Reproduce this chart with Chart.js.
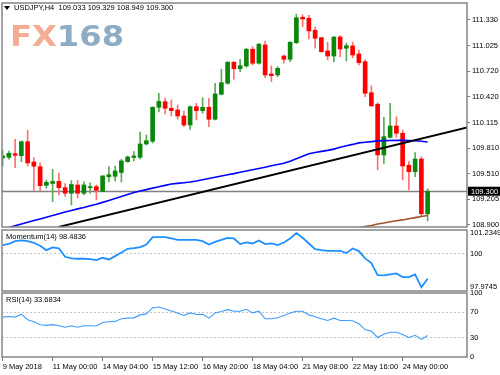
<!DOCTYPE html>
<html>
<head>
<meta charset="utf-8">
<script src="https://cdn.jsdelivr.net/npm/chart.js@4.4.1/dist/chart.umd.min.js"></script>
<style>
  html, body { margin: 0; padding: 0; background: #fff; }
  #wrap { position: relative; width: 500px; height: 375px; overflow: hidden; font-family: 'Liberation Sans', Arial, sans-serif; }
  #wrap canvas { position: absolute; left: 0; top: 0; }
  .lbl { position: absolute; font-size: 7.5px; line-height: 1; color: #000; white-space: pre; }
  #tri { position: absolute; left: 4px; top: 6px; width: 0; height: 0; border-left: 3px solid transparent; border-right: 3px solid transparent; border-top: 4px solid #000; }
  #logo { position: absolute; left: 10px; top: 23px; font: bold 28px 'DejaVu Sans', sans-serif; line-height: 28px; transform: scaleX(1.15); transform-origin: left top; white-space: pre; }
</style>
</head>
<body>
<div id="wrap">
  <canvas id="main" width="500" height="375"></canvas>
  <canvas id="mom" width="500" height="375"></canvas>
  <canvas id="rsi" width="500" height="375"></canvas>
  <div id="logo"><span style="color:#f3ad95">FX</span><span style="color:#8eacc4">168</span></div>
  <div id="tri"></div>
  <div class="lbl" style="left:14px;top:4px">USDJPY,H4  109.033 109.329 108.949 109.300</div>
  <div class="lbl" style="left:6px;top:233px">Momentum(14) 98.4836</div>
  <div class="lbl" style="left:6px;top:296px">RSI(14) 33.6834</div>
</div>
<script>
// USDJPY H4, 69 bougies + MA, ligne de tendance, Momentum(14), RSI(14)
const tickBars = [0, 8, 16, 24, 32, 40, 48, 56, 64];
const tickLabels = ['9 May 2018', '11 May 00:00', '14 May 04:00', '15 May 12:00', '16 May 20:00',
  '18 May 04:00', '21 May 08:00', '22 May 16:00', '24 May 00:00'];

const opens = [
  109.694, 109.702, 109.745, 109.721, 109.887, 109.647, 109.591, 109.370, 109.392, 109.416,
  109.342, 109.276, 109.374, 109.276, 109.342, 109.354, 109.299, 109.472, 109.477, 109.522,
  109.650, 109.700, 109.702, 109.860, 109.892, 110.295, 110.361, 110.283, 110.263, 110.192,
  110.085, 110.302, 110.255, 110.295, 110.153, 110.449, 110.580, 110.829, 110.753, 110.785,
  110.983, 110.817, 111.034, 110.690, 110.678, 110.903, 110.864, 111.061, 111.362, 111.350,
  111.208, 111.120, 110.962, 110.903, 111.128, 110.995, 111.022, 110.927, 110.836, 110.468,
  110.331, 109.730, 109.939, 110.073, 109.987, 109.608, 109.532, 109.682, 109.033];
const highs = [
  109.789, 109.777, 109.916, 109.896, 110.020, 109.698, 109.638, 109.433, 109.560, 109.516,
  109.392, 109.427, 109.427, 109.410, 109.401, 109.374, 109.484, 109.591, 109.599, 109.679,
  109.718, 109.769, 110.002, 109.967, 110.302, 110.461, 110.405, 110.382, 110.322, 110.251,
  110.311, 110.342, 110.409, 110.402, 110.580, 110.746, 110.836, 110.836, 110.864, 110.995,
  111.013, 111.054, 111.081, 110.785, 110.776, 110.915, 111.073, 111.398, 111.392, 111.385,
  111.247, 111.125, 111.066, 111.132, 111.144, 111.057, 111.069, 110.974, 110.856, 110.548,
  110.350, 110.177, 110.342, 110.184, 110.026, 109.650, 109.757, 109.710, 109.329];
const lows = [
  109.599, 109.679, 109.579, 109.650, 109.599, 109.309, 109.306, 109.335, 109.176, 109.256,
  109.238, 109.137, 109.220, 109.256, 109.276, 109.196, 109.295, 109.410, 109.421, 109.410,
  109.643, 109.659, 109.682, 109.848, 109.872, 110.239, 110.216, 110.192, 110.153, 110.065,
  110.034, 110.145, 110.224, 110.065, 110.145, 110.441, 110.568, 110.627, 110.717, 110.769,
  110.797, 110.805, 110.646, 110.599, 110.658, 110.817, 110.836, 111.049, 111.251, 111.105,
  110.995, 110.947, 110.856, 110.836, 110.895, 110.844, 110.880, 110.797, 110.421, 110.305,
  109.552, 109.631, 109.928, 109.939, 109.433, 109.315, 109.472, 108.998, 108.949];
const closes = [
  109.718, 109.750, 109.726, 109.887, 109.635, 109.596, 109.366, 109.406, 109.416, 109.342,
  109.276, 109.380, 109.276, 109.374, 109.354, 109.311, 109.481, 109.496, 109.540, 109.659,
  109.706, 109.718, 109.860, 109.899, 110.295, 110.364, 110.283, 110.255, 110.192, 110.085,
  110.302, 110.255, 110.295, 110.153, 110.453, 110.587, 110.829, 110.753, 110.788, 110.983,
  110.817, 111.042, 110.678, 110.670, 110.757, 110.864, 111.066, 111.357, 111.342, 111.200,
  111.113, 110.954, 110.903, 111.128, 110.986, 111.025, 110.915, 110.824, 110.461, 110.311,
  109.730, 109.947, 110.073, 109.987, 109.599, 109.532, 109.682, 109.033, 109.300];

// moyenne mobile bleue
const ma = [
  108.850, 108.871, 108.891, 108.912, 108.932, 108.952, 108.972, 108.992, 109.012, 109.033,
  109.053, 109.072, 109.091, 109.107, 109.127, 109.146, 109.168, 109.191, 109.214, 109.238,
  109.261, 109.284, 109.302, 109.319, 109.337, 109.354, 109.369, 109.385, 109.393, 109.401,
  109.410, 109.421, 109.436, 109.450, 109.465, 109.481, 109.495, 109.509, 109.525, 109.539,
  109.554, 109.570, 109.585, 109.601, 109.616, 109.631, 109.655, 109.685, 109.714, 109.744,
  109.759, 109.772, 109.784, 109.799, 109.821, 109.839, 109.855, 109.873, 109.881, 109.888,
  109.897, 109.900, 109.902, 109.903, 109.903, 109.902, 109.899, 109.892, 109.884];
// moyenne mobile marron (visible seulement en fin de fenêtre)
const ma2From = 56;
const ma2 = [108.858, 108.870, 108.882, 108.894, 108.912, 108.924, 108.939, 108.950,
  108.960, 108.973, 108.987, 109.001, 109.012];
// ligne de tendance
const trendBars = [9, 75];
const trendPrices = [108.877, 110.067];

const mom = [
  100.51, 100.59, 100.75, 100.79, 100.75, 100.65, 100.47, 100.21, 100.37, 100.31,
  99.81, 99.71, 99.69, 99.69, 99.67, 99.61, 99.75, 99.65, 99.85, 100.07,
  100.29, 100.33, 100.39, 100.55, 100.99, 100.99, 100.99, 100.91, 100.83, 100.83,
  100.83, 100.83, 100.75, 100.55, 100.71, 100.83, 100.95, 100.91, 100.57, 100.67,
  100.61, 100.79, 100.57, 100.61, 100.51, 100.67, 100.91, 101.2349, 100.95, 100.61,
  100.27, 100.21, 100.17, 100.17, 100.17, 100.03, 100.31, 100.15, 99.71, 99.43,
  98.71, 98.69, 98.75, 98.81, 98.59, 98.59, 98.75, 97.9745, 98.4836];
const rsi = [
  62.3, 63.3, 62.3, 66.9, 58.2, 55.1, 50.5, 49.4, 50.5, 48.9,
  46.4, 48.9, 46.4, 48.9, 48.9, 48.4, 54.0, 55.1, 55.6, 59.7,
  60.7, 61.2, 65.8, 67.4, 77.1, 78.2, 75.1, 72.0, 68.9, 64.8,
  68.9, 66.4, 66.9, 60.7, 68.9, 71.0, 74.0, 71.5, 71.5, 74.6,
  68.9, 71.5, 59.7, 59.7, 61.2, 64.8, 68.9, 71.5, 71.5, 65.8,
  62.8, 59.7, 57.1, 60.7, 57.1, 57.1, 56.6, 52.0, 42.8, 40.2,
  30.5, 35.6, 38.7, 38.7, 35.1, 30.5, 34.0, 27.4, 33.6834];

const priceTicks = [108.900, 109.205, 109.510, 109.810, 110.115, 110.420, 110.720, 111.025, 111.330];
const momTicks = [97.9745, 100, 101.2349];
const rsiTicks = [0, 30, 70, 100];

const COL = { up: '#0b870b', upWick: '#5aab5a', dn: '#ff0000', dnWick: '#ff7070',
  frame: '#858585', tick: '#7a7a7a', dash: '#c4c4c4', ma: '#0000ff', ma2: '#a0522d', osc: '#1e90ff' };

Chart.defaults.font.family = "'Liberation Sans', Arial, sans-serif";
Chart.defaults.font.size = 7.5;
Chart.defaults.color = '#000';

const frame = {
  id: 'frame',
  afterDraw(chart) {
    const { ctx, chartArea: a } = chart;
    ctx.save();
    ctx.strokeStyle = COL.frame; ctx.lineWidth = 1.5;
    ctx.strokeRect(a.left, a.top, a.right - a.left, a.bottom - a.top);
    ctx.restore();
  },
};
// ligne du dernier cours + étiquette noire
const bidLine = {
  id: 'bidLine',
  beforeDatasetsDraw(chart) {
    const { ctx, chartArea: a } = chart; const y = Math.round(chart.scales.y.getPixelForValue(closes[closes.length - 1])) + 0.5;
    ctx.save(); ctx.strokeStyle = '#808080'; ctx.lineWidth = 1.3;
    ctx.beginPath(); ctx.moveTo(a.left, y); ctx.lineTo(a.right, y); ctx.stroke(); ctx.restore();
  },
  afterDraw(chart) {
    const { ctx, chartArea: a } = chart; const v = closes[closes.length - 1]; const y = chart.scales.y.getPixelForValue(v);
    ctx.save(); ctx.fillStyle = '#000'; ctx.fillRect(a.right + 1, y - 4.5, 33, 9);
    ctx.fillStyle = '#fff'; ctx.font = "7.5px 'Liberation Sans', Arial, sans-serif"; ctx.textBaseline = 'middle';
    ctx.fillText(v.toFixed(3), a.right + 4, y + 0.5); ctx.restore();
  },
};

function xAxis(show) {
  return {
    type: 'linear', min: -0.1, max: 74.3, offset: false, display: show,
    grid: { drawOnChartArea: false, drawTicks: true, tickLength: 4, tickColor: COL.tick, offset: false },
    border: { display: false },
    afterBuildTicks: (s) => { s.ticks = tickBars.map((v) => ({ value: v })); },
    afterFit: (s) => { s.paddingLeft = 0; s.paddingRight = 0; s.height = show ? 16 : 0; },
    ticks: { align: 'start', padding: 1, maxRotation: 0, autoSkip: false, callback: (v) => tickLabels[tickBars.indexOf(v)] ?? '' },
  };
}
function yAxis(min, max, vals, fmt, grid, pad) {
  return {
    position: 'right', min, max, grid,
    border: { display: false, dash: [2, 2] },
    afterBuildTicks: (s) => { s.ticks = vals.map((v) => ({ value: v })); },
    afterFit: (s) => { s.width = 33; s.paddingTop = 0; s.paddingBottom = 0; },
    ticks: { padding: pad, autoSkip: false, callback: fmt },
  };
}
const levelGrid = (levels) => ({
  drawOnChartArea: true, drawTicks: false,
  color: (c) => (c.tick && levels.includes(c.tick.value) ? COL.dash : 'rgba(0,0,0,0)'),
});
const base = (padding) => ({
  responsive: false, animation: false, devicePixelRatio: 1, events: [],
  layout: { padding },
  plugins: { legend: { display: false }, tooltip: { enabled: false } },
});

const idx = opens.map((_, i) => i);
const isUp = (i) => closes[i] >= opens[i];

new Chart(document.getElementById('main'), {
  type: 'line',
  data: {
    datasets: [
      { type: 'line', data: trendBars.map((b, k) => ({ x: b, y: trendPrices[k] })), borderColor: '#000', borderWidth: 2, pointRadius: 0, order: 0 },
      { type: 'line', data: idx.map((i) => ({ x: i, y: ma[i] })), borderColor: COL.ma, borderWidth: 1.6, pointRadius: 0, order: 0 },
      { type: 'line', data: ma2.map((v, k) => ({ x: ma2From + k, y: v })), borderColor: COL.ma2, borderWidth: 1.6, pointRadius: 0, order: 0 },
      { type: 'bar', data: idx.map((i) => ({ x: i, y: [opens[i], closes[i]] })), backgroundColor: idx.map((i) => (isUp(i) ? COL.up : COL.dn)),
        barThickness: 4, minBarLength: 1, grouped: false, borderWidth: 0, order: 1 },
      { type: 'bar', data: idx.map((i) => ({ x: i, y: [lows[i], highs[i]] })), backgroundColor: idx.map((i) => (isUp(i) ? COL.upWick : COL.dnWick)),
        barThickness: 1, grouped: false, borderWidth: 0, order: 2 },
    ],
  },
  options: {
    ...base({ left: 2, right: 0, top: 3, bottom: 148 }),
    scales: {
      x: xAxis(false),
      y: yAxis(108.876, 111.531, priceTicks, (v) => v.toFixed(3),
        { drawOnChartArea: false, drawTicks: true, tickLength: 3, tickColor: COL.tick }, 2),
    },
  },
  plugins: [bidLine, frame],
});

new Chart(document.getElementById('mom'), {
  type: 'line',
  data: { datasets: [{ data: idx.map((i) => ({ x: i, y: mom[i] })), borderColor: COL.osc, borderWidth: 1.8, pointRadius: 0 }] },
  options: {
    ...base({ left: 2, right: 0, top: 230, bottom: 84 }),
    scales: { x: xAxis(false), y: yAxis(97.75, 101.42, momTicks, (v) => String(v), levelGrid([100]), 3) },
  },
  plugins: [frame],
});

new Chart(document.getElementById('rsi'), {
  type: 'line',
  data: { datasets: [{ data: idx.map((i) => ({ x: i, y: rsi[i] })), borderColor: '#3d9bff', borderWidth: 1.1, pointRadius: 0 }] },
  options: {
    ...base({ left: 2, right: 0, top: 293, bottom: 2 }),
    scales: { x: xAxis(true), y: yAxis(0, 100, rsiTicks, (v) => String(v), levelGrid([30, 70]), 3) },
  },
  plugins: [frame],
});
</script>
</body>
</html>
